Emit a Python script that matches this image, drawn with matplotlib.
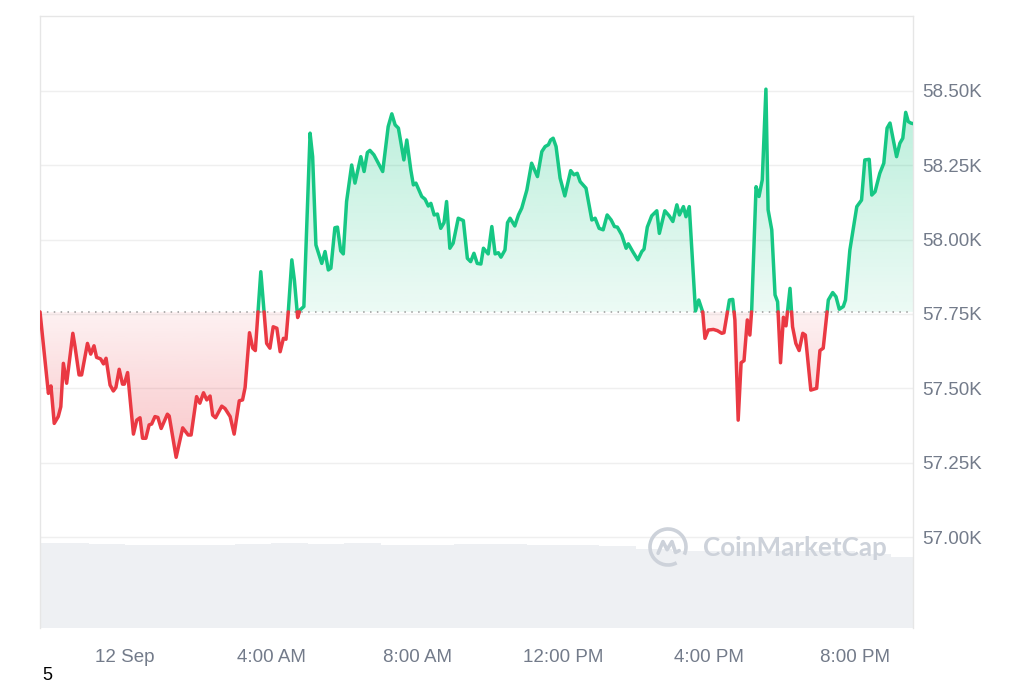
import numpy as np
import matplotlib
matplotlib.use("Agg")
import matplotlib.pyplot as plt
from matplotlib.patches import Arc
from matplotlib.lines import Line2D

# price in thousands of USD, time in hours from 12 Sep 00:00
hours = [-2.33, -2.10, -2.03, -1.94, -1.83, -1.76, -1.69, -1.60, -1.43, -1.37,
         -1.26, -1.19, -1.03, -0.94, -0.85, -0.78, -0.67, -0.59, -0.52, -0.41,
         -0.32, -0.25, -0.16, -0.07, -0.02, 0.07, 0.23, 0.32, 0.41, 0.48,
         0.57, 0.66, 0.73, 0.82, 0.90, 0.99, 1.16, 1.21, 1.40, 1.58,
         1.73, 1.81, 1.96, 2.05, 2.15, 2.24, 2.33, 2.40, 2.48, 2.65,
         2.74, 2.88, 2.99, 3.13, 3.22, 3.29, 3.41, 3.50, 3.57, 3.72,
         3.88, 3.97, 4.06, 4.16, 4.25, 4.34, 4.41, 4.47, 4.57, 4.64,
         4.73, 4.79, 4.90, 5.07, 5.14, 5.23, 5.39, 5.48, 5.57, 5.64,
         5.75, 5.82, 5.91, 5.98, 6.07, 6.21, 6.30, 6.46, 6.55, 6.64,
         6.71, 6.82, 6.94, 7.06, 7.21, 7.31, 7.40, 7.49, 7.64, 7.72,
         7.83, 7.90, 7.97, 8.13, 8.22, 8.31, 8.38, 8.47, 8.56, 8.65,
         8.74, 8.81, 8.90, 8.99, 9.13, 9.27, 9.38, 9.47, 9.56, 9.65,
         9.75, 9.82, 9.95, 10.05, 10.14, 10.23, 10.30, 10.41, 10.48, 10.55,
         10.68, 10.78, 10.87, 11.01, 11.14, 11.30, 11.42, 11.51, 11.60, 11.66,
         11.73, 11.81, 11.92, 12.05, 12.21, 12.30, 12.39, 12.47, 12.63, 12.79,
         12.88, 12.99, 13.10, 13.21, 13.32, 13.41, 13.49, 13.61, 13.73, 13.79,
         13.91, 14.05, 14.16, 14.22, 14.31, 14.43, 14.57, 14.64, 14.79, 14.91,
         15.01, 15.12, 15.19, 15.30, 15.37, 15.46, 15.63, 15.72, 15.83, 15.89,
         15.98, 16.12, 16.23, 16.35, 16.41, 16.56, 16.65, 16.71, 16.80, 16.88,
         16.96, 17.05, 17.12, 17.17, 17.29, 17.37, 17.46, 17.56, 17.62, 17.72,
         17.81, 17.88, 17.96, 18.04, 18.11, 18.22, 18.29, 18.38, 18.47, 18.57,
         18.64, 18.79, 18.95, 19.04, 19.13, 19.27, 19.39, 19.48, 19.57, 19.68,
         19.74, 19.86, 20.05, 20.18, 20.27, 20.39, 20.46, 20.55, 20.68, 20.79,
         20.88, 20.96, 21.14, 21.23, 21.31, 21.39, 21.46, 21.53, 21.59]

price_k = [57.757, 57.483, 57.508, 57.382, 57.405, 57.438, 57.584, 57.517, 57.685, 57.640,
           57.545, 57.545, 57.651, 57.615, 57.643, 57.604, 57.599, 57.582, 57.601, 57.511,
           57.491, 57.503, 57.564, 57.514, 57.514, 57.553, 57.346, 57.393, 57.401, 57.332,
           57.332, 57.377, 57.380, 57.405, 57.402, 57.365, 57.413, 57.407, 57.268, 57.367,
           57.343, 57.343, 57.472, 57.450, 57.485, 57.461, 57.474, 57.410, 57.401, 57.440,
           57.432, 57.405, 57.346, 57.458, 57.461, 57.503, 57.687, 57.635, 57.627, 57.892,
           57.651, 57.635, 57.707, 57.702, 57.623, 57.668, 57.665, 57.752, 57.932, 57.864,
           57.738, 57.763, 57.775, 58.358, 58.279, 57.982, 57.920, 57.960, 57.898, 57.904,
           58.040, 58.042, 57.962, 57.952, 58.128, 58.251, 58.190, 58.279, 58.229, 58.293,
           58.300, 58.285, 58.257, 58.229, 58.380, 58.423, 58.386, 58.375, 58.268, 58.335,
           58.234, 58.184, 58.190, 58.145, 58.136, 58.113, 58.122, 58.083, 58.086, 58.038,
           58.057, 58.128, 57.971, 57.988, 58.072, 58.064, 57.937, 57.926, 57.954, 57.920,
           57.918, 57.971, 57.952, 58.044, 57.952, 57.956, 57.941, 57.965, 58.057, 58.072,
           58.046, 58.083, 58.106, 58.167, 58.257, 58.212, 58.296, 58.313, 58.319, 58.335,
           58.341, 58.313, 58.207, 58.147, 58.232, 58.218, 58.223, 58.195, 58.173, 58.066,
           58.072, 58.038, 58.033, 58.083, 58.066, 58.044, 58.042, 58.016, 57.971, 57.986,
           57.960, 57.932, 57.960, 57.968, 58.042, 58.080, 58.097, 58.021, 58.097, 58.080,
           58.061, 58.117, 58.083, 58.111, 58.077, 58.111, 57.760, 57.797, 57.756, 57.668,
           57.696, 57.698, 57.694, 57.685, 57.687, 57.797, 57.799, 57.730, 57.393, 57.586,
           57.593, 57.730, 57.679, 57.763, 58.178, 58.145, 58.201, 58.506, 58.100, 58.033,
           57.814, 57.791, 57.586, 57.739, 57.710, 57.836, 57.707, 57.651, 57.627, 57.685,
           57.679, 57.494, 57.500, 57.627, 57.635, 57.797, 57.822, 57.808, 57.766, 57.775,
           57.797, 57.965, 58.111, 58.133, 58.268, 58.270, 58.150, 58.161, 58.223, 58.257,
           58.375, 58.392, 58.279, 58.324, 58.341, 58.428, 58.397, 58.392, 58.390]

# hourly volume, relative to the busiest hour
volume_hours = list(range(-3, 22))
volume_rel = [1.00, 1.00, 0.99, 0.976, 0.976, 0.976, 0.99, 1.00, 0.99, 1.00,
              0.98, 0.976, 0.985, 0.985, 0.976, 0.976, 0.965, 0.93, 0.905, 0.905,
              0.905, 0.905, 0.905, 0.87, 0.835]

y_ticks = [57.00, 57.25, 57.50, 57.75, 58.00, 58.25, 58.50]
x_ticks = [0, 4, 8, 12, 16, 20]
x_tick_labels = ["12 Sep", "4:00 AM", "8:00 AM", "12:00 PM", "4:00 PM", "8:00 PM"]

GREEN = "#16c784"
RED = "#ea3943"
LABEL = "#737b8a"

plt.rcParams["font.family"] = ["Liberation Sans", "DejaVu Sans"]


def split_at_base(t, p, base):
    # add a point wherever the line crosses the open price
    ts, ps = [t[0]], [p[0]]
    for i in range(1, len(t)):
        a, b = p[i - 1] - base, p[i] - base
        if a * b < 0:
            f = a / (a - b)
            ts.append(t[i - 1] + f * (t[i] - t[i - 1]))
            ps.append(base)
        ts.append(t[i])
        ps.append(p[i])
    return np.array(ts), np.array(ps)


def gradient_fill(ax, t, lower, upper, color, y0, y1, a0, a1):
    poly = ax.fill_between(t, lower, upper, facecolor="none", edgecolor="none")
    rgb = matplotlib.colors.to_rgb(color)
    img = np.zeros((256, 1, 4))
    img[:, 0, :3] = rgb
    img[:, 0, 3] = np.linspace(a0, a1, 256)
    im = ax.imshow(img, aspect="auto", origin="lower", interpolation="bilinear",
                   extent=[t[0], t[-1], y0, y1], zorder=1)
    im.set_clip_path(poly.get_paths()[0], transform=ax.transData)


t = np.array(hours)
p = np.array(price_k)
base = p[0]
ts, ps = split_at_base(t, p, base)

fig = plt.figure(figsize=(10.24, 6.83), dpi=100)
ax_v = fig.add_axes([40 / 1024, 1 - 628 / 683, 873 / 1024, 612 / 683])
ax = ax_v.twinx()

# volume in the back
ax_v.bar(volume_hours, volume_rel, width=1.0, align="edge", color="#eef0f3", linewidth=0)
ax_v.set_ylim(0, 7.2)
ax_v.set_yticks([])
for s in ax_v.spines.values():
    s.set_visible(False)

# price
ax.patch.set_visible(False)
gradient_fill(ax, ts, base, np.maximum(ps, base), GREEN, base, 58.55, 0.08, 0.32)
gradient_fill(ax, ts, np.minimum(ps, base), base, RED, 57.25, base, 0.30, 0.07)

green = np.where(ps >= base, ps, np.nan)
red = np.where(ps <= base, ps, np.nan)
ax.plot(ts, green, color=GREEN, lw=2.5, solid_joinstyle="round", solid_capstyle="round", zorder=3)
ax.plot(ts, red, color=RED, lw=2.5, solid_joinstyle="round", solid_capstyle="round", zorder=3)
ax.axhline(base, color="#9a9a9a", lw=1.1, ls=(0, (1, 3.5)), zorder=2)

ax.set_ylim(56.694, 58.752)
ax.set_xlim(t[0], t[-1])
ax.set_yticks(y_ticks)
ax.set_yticklabels([f"{v:.2f}K" for v in y_ticks])
ax.yaxis.grid(True, color="#efefef", lw=1)
ax.set_axisbelow(True)
ax.tick_params(axis="y", length=0, pad=6.5, labelsize=13.5, labelcolor=LABEL)

ax_v.set_xticks(x_ticks)
ax_v.set_xticklabels(x_tick_labels)
ax_v.tick_params(axis="x", length=0, pad=15, labelsize=13.5, labelcolor=LABEL)

for side in ["left", "top", "right"]:
    ax.spines[side].set_color("#e6e6e6")
    ax.spines[side].set_linewidth(1)
ax.spines["bottom"].set_visible(False)

# watermark
wm = "#cdd2da"
fig.text(703 / 1024, 1 - 548 / 683, "CoinMarketCap", color=wm, fontsize=18.7,
         family=["Lato", "DejaVu Sans"], weight="bold", va="center", ha="left")
cx, cy = 668 / 1024, 1 - 547 / 683
fig.add_artist(Arc((cx, cy), 36 / 1024, 36 / 683, theta1=-35, theta2=290,
                   transform=fig.transFigure, color=wm, lw=2.6))
mx = np.array([-0.55, -0.28, -0.05, 0.22, 0.42, 0.62]) * 18 / 1024 + cx
my = np.array([-0.35, 0.3, -0.15, 0.3, -0.3, -0.2]) * 18 / 683 + cy
fig.add_artist(Line2D(mx, my, transform=fig.transFigure, color=wm, lw=2.6,
                      solid_joinstyle="round", solid_capstyle="round"))

fig.text(47 / 1024, 1 - 675 / 683, "5", color="black", fontsize=13, ha="center", va="center")

fig.savefig("out.png", dpi=100, facecolor="white")
